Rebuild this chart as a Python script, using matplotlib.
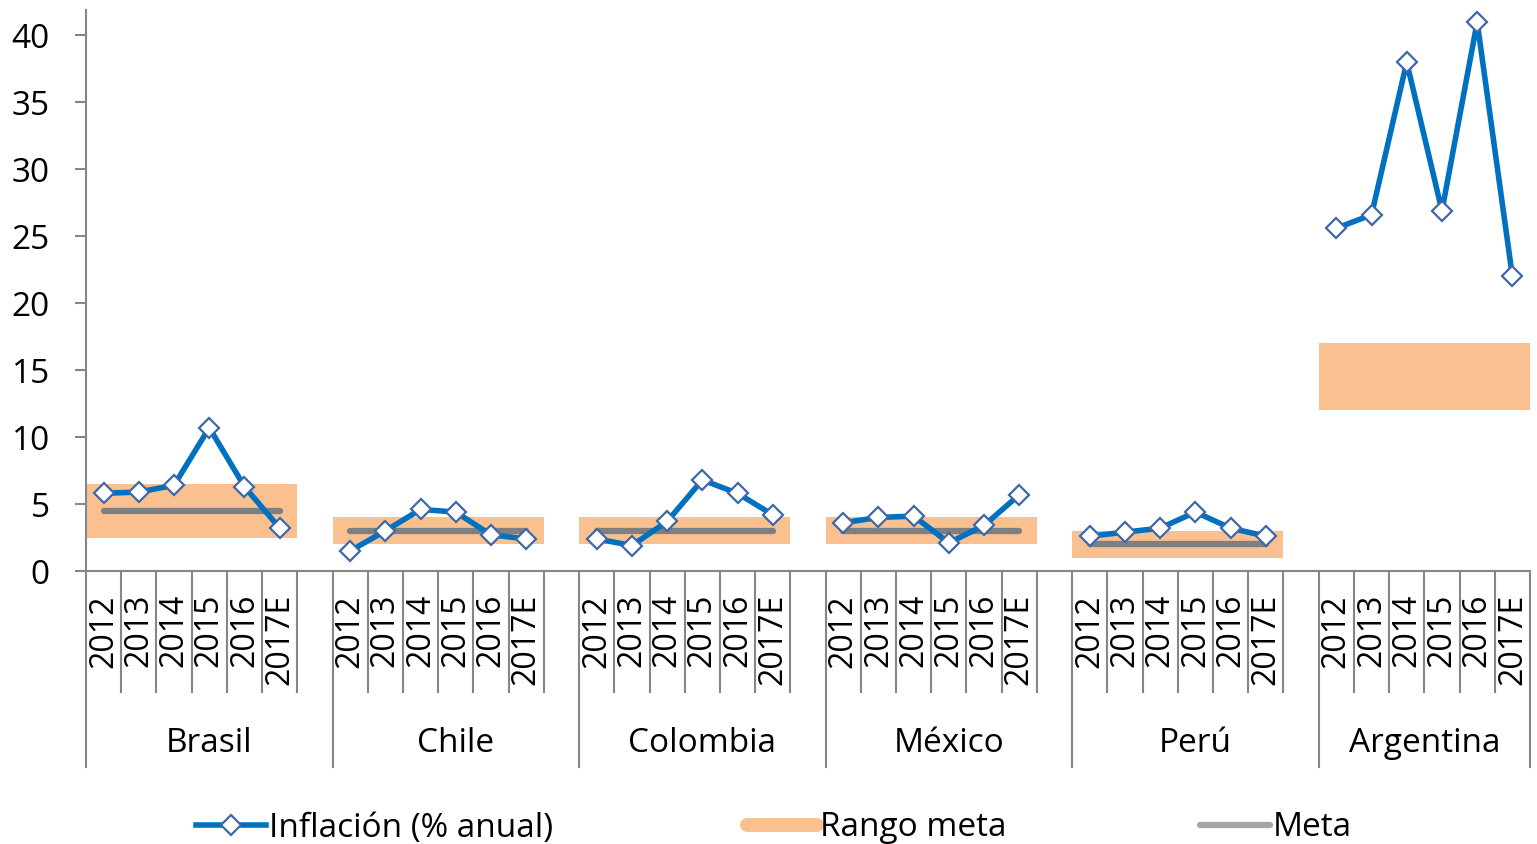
import numpy as np
import matplotlib
matplotlib.use("Agg")
import matplotlib.pyplot as plt
from matplotlib.lines import Line2D
import matplotlib.transforms as mtransforms

plt.rcParams['font.family'] = ['Open Sans', 'DejaVu Sans']

countries = ["Brasil", "Chile", "Colombia", "México", "Perú", "Argentina"]
years = ["2012", "2013", "2014", "2015", "2016", "2017E"]

inflation = {
    "Brasil":    [5.8, 5.9, 6.4, 10.7, 6.3, 3.2],
    "Chile":     [1.5, 3.0, 4.6, 4.4, 2.7, 2.4],
    "Colombia":  [2.4, 1.9, 3.7, 6.8, 5.8, 4.2],
    "México":    [3.6, 4.0, 4.1, 2.1, 3.4, 5.7],
    "Perú":      [2.6, 2.9, 3.2, 4.4, 3.2, 2.6],
    "Argentina": [25.6, 26.6, 38.0, 26.9, 41.0, 22.0],
}
range_low = {"Brasil": 2.5, "Chile": 2.0, "Colombia": 2.0, "México": 2.0, "Perú": 1.0, "Argentina": 12.0}
range_high = {"Brasil": 6.5, "Chile": 4.0, "Colombia": 4.0, "México": 4.0, "Perú": 3.0, "Argentina": 17.0}
target = {"Brasil": 4.5, "Chile": 3.0, "Colombia": 3.0, "México": 3.0, "Perú": 2.0, "Argentina": np.nan}

BLUE = "#0070C0"
MEDGE = "#3E68A8"
ORANGE = "#FAC090"
GREY = "#7F7F7F"
AXC = "#868686"

# build slot arrays (6 years + 1 blank per group, last group without blank)
xs, infl, lo, hi, tg = [], [], [], [], []
slot = 0
for gi, c in enumerate(countries):
    for j in range(6):
        xs.append(slot)
        infl.append(inflation[c][j])
        lo.append(range_low[c])
        hi.append(range_high[c])
        tg.append(target[c])
        slot += 1
    if gi < len(countries) - 1:
        xs.append(slot)
        infl.append(np.nan)
        lo.append(np.nan)
        hi.append(np.nan)
        tg.append(np.nan)
        slot += 1
nslots = slot
xs = np.array(xs, dtype=float)
infl = np.array(infl)
lo = np.array(lo)
hi = np.array(hi)
tg = np.array(tg)

W, H = 1537, 844
fig = plt.figure(figsize=(W / 100, H / 100), dpi=100)
ax = fig.add_axes([86 / W, 1 - 571 / H, (1530 - 86) / W, 561 / H])

ax.bar(xs, np.nan_to_num(hi - lo), bottom=np.nan_to_num(lo), width=1.0, color=ORANGE, zorder=1, linewidth=0)
ax.plot(xs, tg, color=GREY, lw=4.5, solid_capstyle='round', zorder=2)
ax.plot(xs, infl, color=BLUE, lw=4.0, marker='D', markersize=10.5, markerfacecolor='white',
        markeredgecolor=MEDGE, markeredgewidth=1.6, zorder=3)

ax.set_xlim(-0.5, nslots - 0.5)
ax.set_ylim(0, 41.9)
ax.set_yticks(range(0, 41, 5))
ax.set_xticks([])
for s in ['top', 'right']:
    ax.spines[s].set_visible(False)
for s in ['left', 'bottom']:
    ax.spines[s].set_color(AXC)
    ax.spines[s].set_linewidth(1.5)
ax.tick_params(axis='y', direction='out', length=8, width=1.5, color=AXC, pad=18, labelsize=24)

trans = mtransforms.blended_transform_factory(ax.transData, ax.transAxes)
short_y = (571 - 692) / 561
long_y = (571 - 767) / 561
group_edges = set()
start = 0
for gi, c in enumerate(countries):
    group_edges.add(start - 0.5)
    end = start + (7 if gi < len(countries) - 1 else 6)
    ax.text((start - 0.5 + end - 0.5) / 2, (571 - 744) / 561, c, transform=trans,
            ha='center', va='center', fontsize=24)
    for j in range(6):
        ax.text(start + j, (571 - 594) / 561, years[j], transform=trans, rotation=90,
                ha='center', va='top', fontsize=23)
    start = end
group_edges.add(nslots - 0.5)
for k in range(nslots + 1):
    e = k - 0.5
    yb = long_y if e in group_edges else short_y
    ax.plot([e, e], [0, yb], transform=trans, color=AXC, lw=1.5, clip_on=False)

handles = [
    Line2D([], [], color=BLUE, lw=4.0, marker='D', markersize=10.5, markerfacecolor='white',
           markeredgecolor=MEDGE, markeredgewidth=1.6),
    Line2D([], [], color=ORANGE, lw=10, solid_capstyle='round'),
    Line2D([], [], color="#A6A6A6", lw=4.5, solid_capstyle='round'),
]
labels = ["Inflación (% anual)", "Rango meta", "Meta"]
fig.legend(handles, labels, loc='center', bbox_to_anchor=(774 / W, 1 - 828 / H), ncol=3,
           frameon=False, fontsize=24, handlelength=2.1, handletextpad=0.1,
           columnspacing=5.8, borderaxespad=0, borderpad=0)

fig.savefig("out.png", dpi=100)
